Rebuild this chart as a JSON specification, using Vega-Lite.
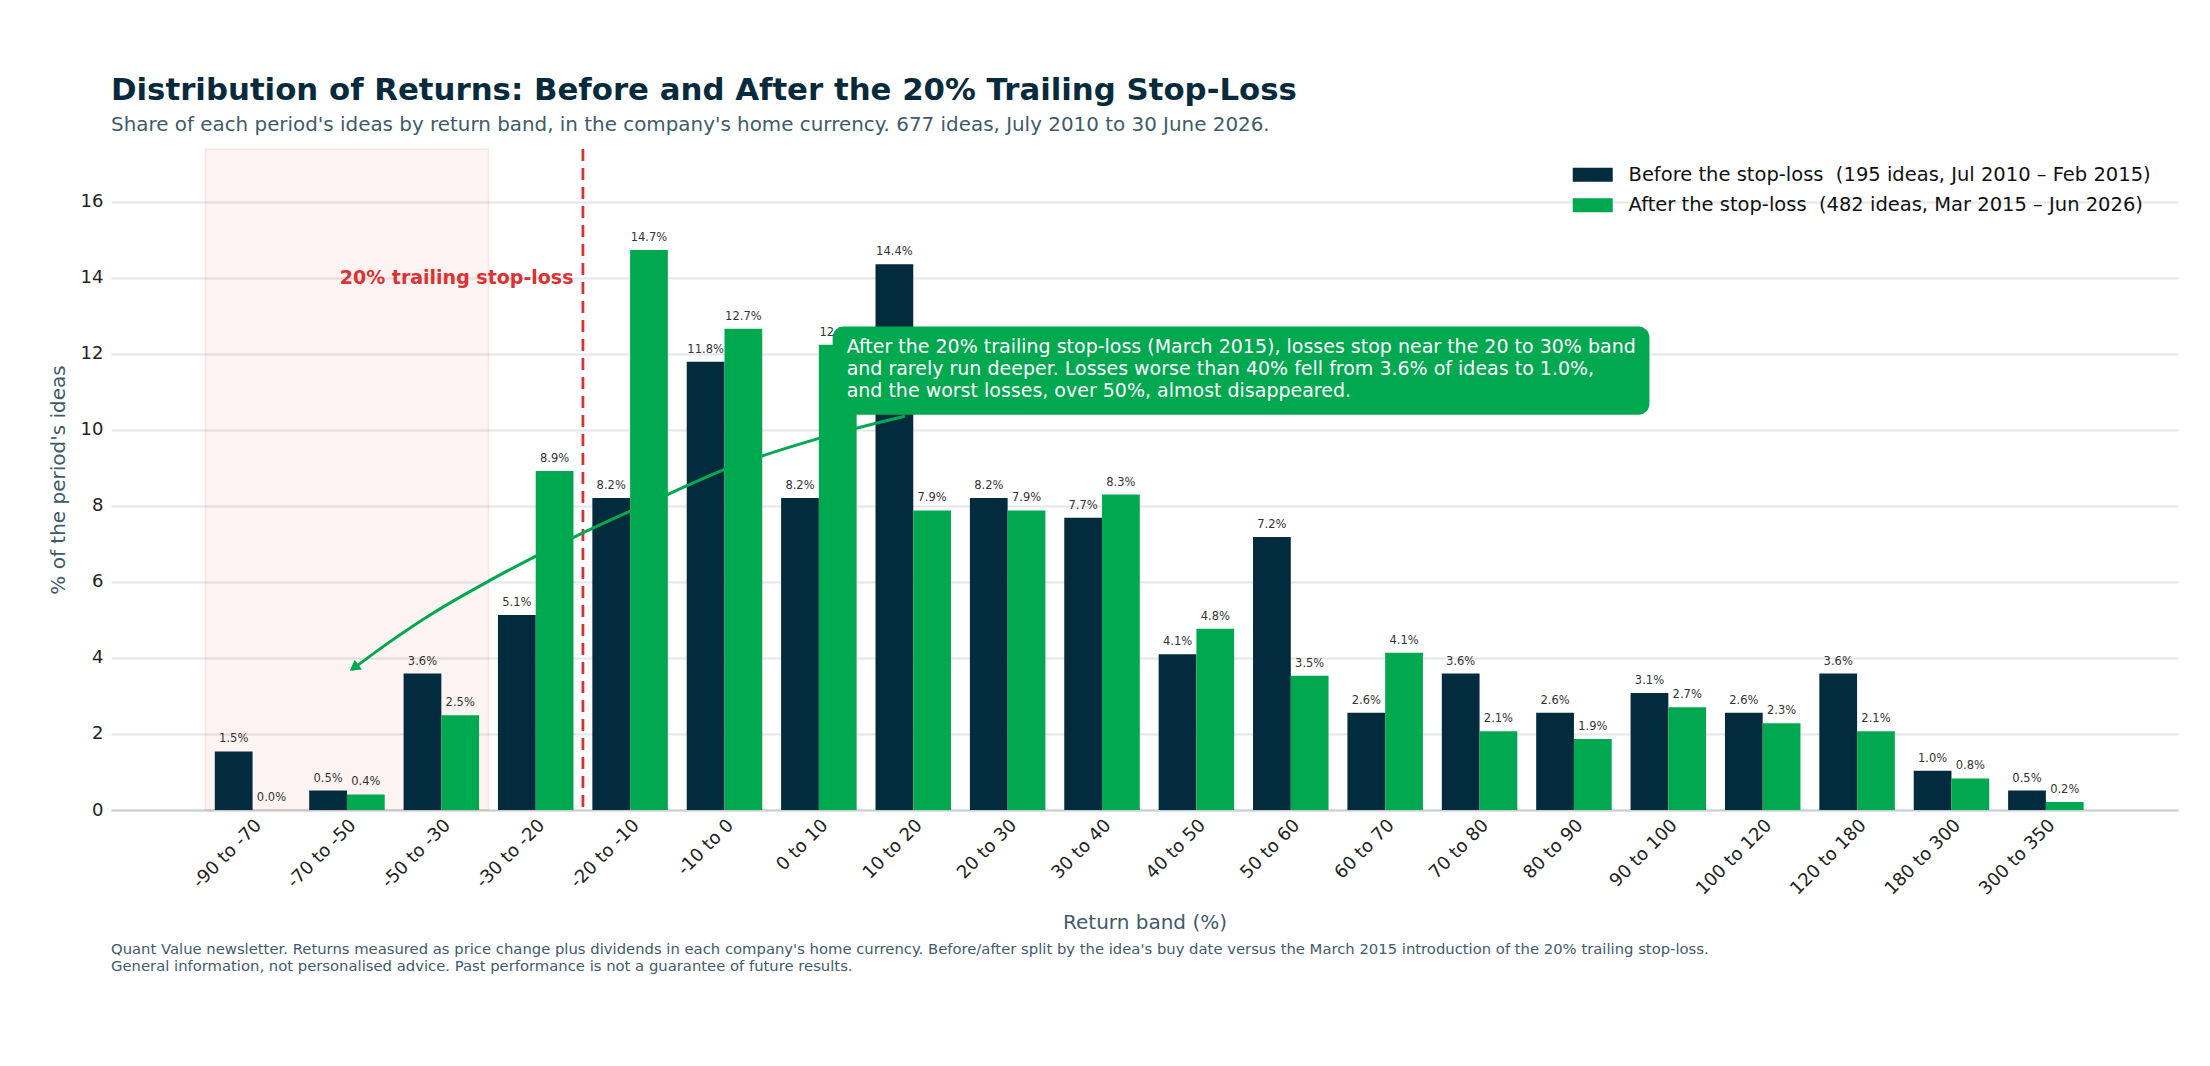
{
  "$schema": "https://vega.github.io/schema/vega-lite/v6.json",
  "width": 2067,
  "height": 661,
  "autosize": {"type": "none"},
  "padding": {"left": 111, "top": 149, "right": 32, "bottom": 256},
  "background": "white",
  "config": {"font": "DejaVu Sans", "view": {"stroke": null}},
  "title": {
    "text": "Distribution of Returns: Before and After the 20% Trailing Stop-Loss",
    "subtitle": "Share of each period's ideas by return band, in the company's home currency. 677 ideas, July 2010 to 30 June 2026.",
    "anchor": "start",
    "frame": "group",
    "font": "DejaVu Sans",
    "fontSize": 30.8,
    "fontWeight": "bold",
    "color": "#072b3d",
    "subtitleFont": "DejaVu Sans",
    "subtitleFontSize": 19.9,
    "subtitleColor": "#3f5b6b",
    "subtitlePadding": 8,
    "offset": 12
  },
  "datasets": {
    "returns": [
      {"band": "-90 to -70", "period": "Before", "pct": 1.54},
      {"band": "-90 to -70", "period": "After", "pct": 0.0},
      {"band": "-70 to -50", "period": "Before", "pct": 0.51},
      {"band": "-70 to -50", "period": "After", "pct": 0.41},
      {"band": "-50 to -30", "period": "Before", "pct": 3.59},
      {"band": "-50 to -30", "period": "After", "pct": 2.49},
      {"band": "-30 to -20", "period": "Before", "pct": 5.13},
      {"band": "-30 to -20", "period": "After", "pct": 8.92},
      {"band": "-20 to -10", "period": "Before", "pct": 8.21},
      {"band": "-20 to -10", "period": "After", "pct": 14.73},
      {"band": "-10 to 0", "period": "Before", "pct": 11.79},
      {"band": "-10 to 0", "period": "After", "pct": 12.66},
      {"band": "0 to 10", "period": "Before", "pct": 8.21},
      {"band": "0 to 10", "period": "After", "pct": 12.24},
      {"band": "10 to 20", "period": "Before", "pct": 14.36},
      {"band": "10 to 20", "period": "After", "pct": 7.88},
      {"band": "20 to 30", "period": "Before", "pct": 8.21},
      {"band": "20 to 30", "period": "After", "pct": 7.88},
      {"band": "30 to 40", "period": "Before", "pct": 7.69},
      {"band": "30 to 40", "period": "After", "pct": 8.3},
      {"band": "40 to 50", "period": "Before", "pct": 4.1},
      {"band": "40 to 50", "period": "After", "pct": 4.77},
      {"band": "50 to 60", "period": "Before", "pct": 7.18},
      {"band": "50 to 60", "period": "After", "pct": 3.53},
      {"band": "60 to 70", "period": "Before", "pct": 2.56},
      {"band": "60 to 70", "period": "After", "pct": 4.14},
      {"band": "70 to 80", "period": "Before", "pct": 3.59},
      {"band": "70 to 80", "period": "After", "pct": 2.07},
      {"band": "80 to 90", "period": "Before", "pct": 2.56},
      {"band": "80 to 90", "period": "After", "pct": 1.87},
      {"band": "90 to 100", "period": "Before", "pct": 3.08},
      {"band": "90 to 100", "period": "After", "pct": 2.7},
      {"band": "100 to 120", "period": "Before", "pct": 2.56},
      {"band": "100 to 120", "period": "After", "pct": 2.28},
      {"band": "120 to 180", "period": "Before", "pct": 3.59},
      {"band": "120 to 180", "period": "After", "pct": 2.07},
      {"band": "180 to 300", "period": "Before", "pct": 1.03},
      {"band": "180 to 300", "period": "After", "pct": 0.83},
      {"band": "300 to 350", "period": "Before", "pct": 0.51},
      {"band": "300 to 350", "period": "After", "pct": 0.21}
    ],
    "arrow": [
      {"ax": 1.05, "ay": 3.69},
      {"ax": 1.435, "ay": 4.39},
      {"ax": 1.918, "ay": 5.19},
      {"ax": 2.529, "ay": 6.06},
      {"ax": 3.423, "ay": 7.2},
      {"ax": 4.398, "ay": 8.3},
      {"ax": 5.002, "ay": 8.96},
      {"ax": 6.019, "ay": 9.79},
      {"ax": 6.909, "ay": 10.36}
    ]
  },
  "layer": [
    {
      "data": {"values": [{}]},
      "layer": [
        {
          "mark": {"type": "rect", "fill": "#dc3232", "fillOpacity": 0.06, "stroke": "#dc3232", "strokeOpacity": 0.1, "strokeWidth": 1.5},
          "encoding": {
            "x": {"datum": -0.5, "type": "quantitative", "scale": {"domain": [-1.5, 20.4], "nice": false, "zero": false}, "axis": null},
            "x2": {"datum": 2.5},
            "y": {"datum": 0, "type": "quantitative", "scale": {"domain": [0, 17.39], "nice": false}, "axis": null},
            "y2": {"datum": 17.39}
          }
        },
        {
          "mark": {"type": "rule", "stroke": "#dc3232", "strokeWidth": 2.8, "strokeDash": [12, 7]},
          "encoding": {
            "x": {"datum": 3.5, "type": "quantitative", "scale": {"domain": [-1.5, 20.4], "nice": false, "zero": false}, "axis": null}
          }
        }
      ]
    },
    {
      "data": {"name": "returns"},
      "encoding": {
        "x": {
          "field": "band", "type": "nominal", "sort": null,
          "scale": {"paddingInner": 0, "paddingOuter": 0.95, "align": 0.5263},
          "axis": {
            "title": "Return band (%)", "labelAngle": -45, "labelFontSize": 18, "labelColor": "#222222",
            "ticks": false, "domainColor": "#c8cfd4", "domainWidth": 2, "labelPadding": 6,
            "titleFontSize": 20, "titleColor": "#3f5b6b", "titleFontWeight": "normal", "titlePadding": 14
          }
        },
        "xOffset": {"field": "period", "type": "nominal", "sort": ["Before", "After"], "scale": {"paddingInner": 0, "paddingOuter": 0.25}},
        "y": {
          "field": "pct", "type": "quantitative",
          "scale": {"domain": [0, 17.39], "nice": false},
          "axis": {
            "title": "% of the period's ideas", "values": [0, 2, 4, 6, 8, 10, 12, 14, 16],
            "labelFontSize": 18, "labelColor": "#222222", "labelPadding": 8, "ticks": false, "domain": false,
            "grid": true, "gridColor": "#e3e6ea", "gridWidth": 2,
            "titleFontSize": 20, "titleColor": "#3f5b6b", "titleFontWeight": "normal", "titlePadding": 12
          }
        }
      },
      "layer": [
        {
          "mark": {"type": "bar"},
          "encoding": {
            "color": {
              "field": "period", "type": "nominal", "sort": ["Before", "After"],
              "scale": {"domain": ["Before", "After"], "range": ["#022b3d", "#00a94f"]},
              "legend": {
                "title": null, "orient": "none", "legendX": 1459, "legendY": 16, "padding": 0,
                "labelFontSize": 19.5, "labelColor": "#111111", "labelLimit": 0,
                "labelExpr": "datum.label == 'Before' ? 'Before the stop-loss\u00a0 (195 ideas, Jul 2010 – Feb 2015)' : 'After the stop-loss\u00a0 (482 ideas, Mar 2015 – Jun 2026)'",
                "symbolType": "M-1,-1H4.71V1H-1Z", "symbolSize": 196, "symbolStrokeWidth": 0, "symbolOpacity": 1,
                "labelOffset": 39, "rowPadding": 9.5
              }
            }
          }
        },
        {
          "mark": {"type": "text", "text": {"expr": "format(datum.pct, '.1f') + '%'"}, "baseline": "alphabetic", "dy": -9, "fontSize": 11.5, "fill": "#333333"}
        }
      ]
    },
    {
      "layer": [
        {
          "data": {"name": "arrow"},
          "mark": {"type": "line", "stroke": "#00a94f", "strokeWidth": 3, "interpolate": "monotone"},
          "encoding": {
            "x": {"field": "ax", "type": "quantitative", "scale": {"domain": [-1.5, 20.4], "nice": false, "zero": false}, "axis": null},
            "y": {"field": "ay", "type": "quantitative", "scale": {"domain": [0, 17.39], "nice": false}, "axis": null}
          }
        },
        {
          "data": {"values": [{}]},
          "mark": {"type": "point", "shape": "triangle", "filled": true, "fill": "#00a94f", "size": 150, "angle": 234, "opacity": 1, "strokeWidth": 0},
          "encoding": {
            "x": {"datum": 1.09, "type": "quantitative", "scale": {"domain": [-1.5, 20.4], "nice": false, "zero": false}, "axis": null},
            "y": {"datum": 3.77, "type": "quantitative", "scale": {"domain": [0, 17.39], "nice": false}, "axis": null}
          }
        },
        {
          "data": {"values": [{}]},
          "mark": {"type": "rect", "fill": "#00a94f", "cornerRadius": 11},
          "encoding": {
            "x": {"datum": 6.146, "type": "quantitative", "scale": {"domain": [-1.5, 20.4], "nice": false, "zero": false}, "axis": null},
            "x2": {"datum": 14.8},
            "y": {"datum": 12.72, "type": "quantitative", "scale": {"domain": [0, 17.39], "nice": false}, "axis": null},
            "y2": {"datum": 10.4}
          }
        },
        {
          "data": {"values": [{}]},
          "mark": {
            "type": "text", "align": "left", "baseline": "alphabetic", "fontSize": 19, "lineHeight": 22, "fill": "white",
            "text": [
              "After the 20% trailing stop-loss (March 2015), losses stop near the 20 to 30% band",
              "and rarely run deeper. Losses worse than 40% fell from 3.6% of ideas to 1.0%,",
              "and the worst losses, over 50%, almost disappeared."
            ]
          },
          "encoding": {
            "x": {"datum": 6.294, "type": "quantitative", "scale": {"domain": [-1.5, 20.4], "nice": false, "zero": false}, "axis": null},
            "y": {"datum": 12.01, "type": "quantitative", "scale": {"domain": [0, 17.39], "nice": false}, "axis": null}
          }
        },
        {
          "data": {"values": [{}]},
          "mark": {"type": "text", "text": "20% trailing stop-loss", "align": "right", "baseline": "alphabetic", "fontSize": 19, "fontWeight": "bold", "fill": "#dc3232"},
          "encoding": {
            "x": {"datum": 3.4, "type": "quantitative", "scale": {"domain": [-1.5, 20.4], "nice": false, "zero": false}, "axis": null},
            "y": {"datum": 13.85, "type": "quantitative", "scale": {"domain": [0, 17.39], "nice": false}, "axis": null}
          }
        },
        {
          "data": {"values": [{}]},
          "mark": {
            "type": "text", "align": "left", "baseline": "alphabetic", "fontSize": 14.8, "lineHeight": 17, "fill": "#3f5b6b",
            "text": [
              "Quant Value newsletter. Returns measured as price change plus dividends in each company's home currency. Before/after split by the idea's buy date versus the March 2015 introduction of the 20% trailing stop-loss.",
              "General information, not personalised advice. Past performance is not a guarantee of future results."
            ]
          },
          "encoding": {
            "x": {"datum": -1.5, "type": "quantitative", "scale": {"domain": [-1.5, 20.4], "nice": false, "zero": false}, "axis": null},
            "y": {"datum": -3.78, "type": "quantitative", "scale": {"domain": [0, 17.39], "nice": false}, "axis": null}
          }
        }
      ]
    }
  ],
  "resolve": {"scale": {"x": "independent"}, "axis": {"x": "independent", "y": "independent"}}
}
